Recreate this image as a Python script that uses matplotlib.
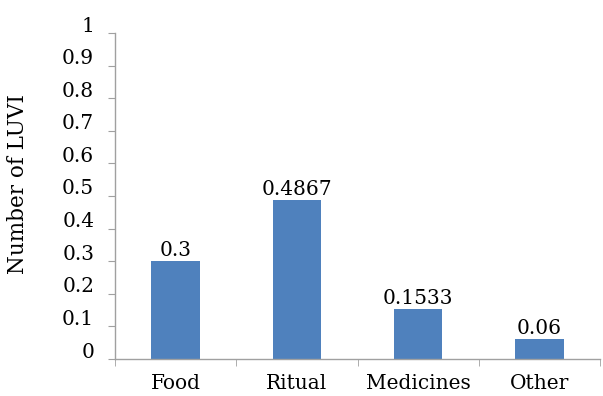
import matplotlib
matplotlib.use("Agg")
import matplotlib.pyplot as plt
import matplotlib.transforms as mtransforms
import numpy as np

categories = ["Food", "Ritual", "Medicines", "Other"]
values = [0.3, 0.4867, 0.1533, 0.06]
value_labels = ["0.3", "0.4867", "0.1533", "0.06"]
yticks = [0, 0.1, 0.2, 0.3, 0.4, 0.5, 0.6, 0.7, 0.8, 0.9, 1]
ytick_labels = ["0", "0.1", "0.2", "0.3", "0.4", "0.5", "0.6", "0.7", "0.8", "0.9", "1"]

plt.rcParams['font.family'] = ['DejaVu Serif']

fig = plt.figure(figsize=(6.03, 3.96), dpi=100)
ax = fig.add_axes([115/603, 37/396, 485/603, 326/396])

x = np.arange(len(categories))
bars = ax.bar(x, values, width=0.4, color="#4F81BD", zorder=2)
for xi, v, lab in zip(x, values, value_labels):
    ax.annotate(lab, (xi, v), xytext=(0, 1), textcoords="offset points",
                ha="center", va="bottom", fontsize=14.5)

ax.set_xlim(-0.5, 3.5)
ax.set_ylim(0, 1)
ax.set_yticks(yticks)
ax.set_yticklabels(ytick_labels, fontsize=14.5)
ax.set_xticks(x)
ax.set_xticklabels(categories, fontsize=14.5)
ax.set_xticks(np.arange(-0.5, 4.0, 1.0), minor=True)
ax.tick_params(axis='x', which='major', length=0, pad=11)
ax.tick_params(axis='x', which='minor', length=5, color="#a0a0a0", direction='out')
ax.tick_params(axis='y', which='major', length=5, color="#a0a0a0", pad=10)

offset = mtransforms.ScaledTranslation(0, 9/100, fig.dpi_scale_trans)
for lbl in ax.get_yticklabels():
    lbl.set_transform(lbl.get_transform() + offset)

for s in ["top", "right"]:
    ax.spines[s].set_visible(False)
for s in ["left", "bottom"]:
    ax.spines[s].set_color("#a0a0a0")
    ax.spines[s].set_linewidth(1)

fig.text(18/603, 0.535, "Number of LUVI", rotation=90, ha="center", va="center", fontsize=15.5)

fig.savefig("out.png", dpi=100)
